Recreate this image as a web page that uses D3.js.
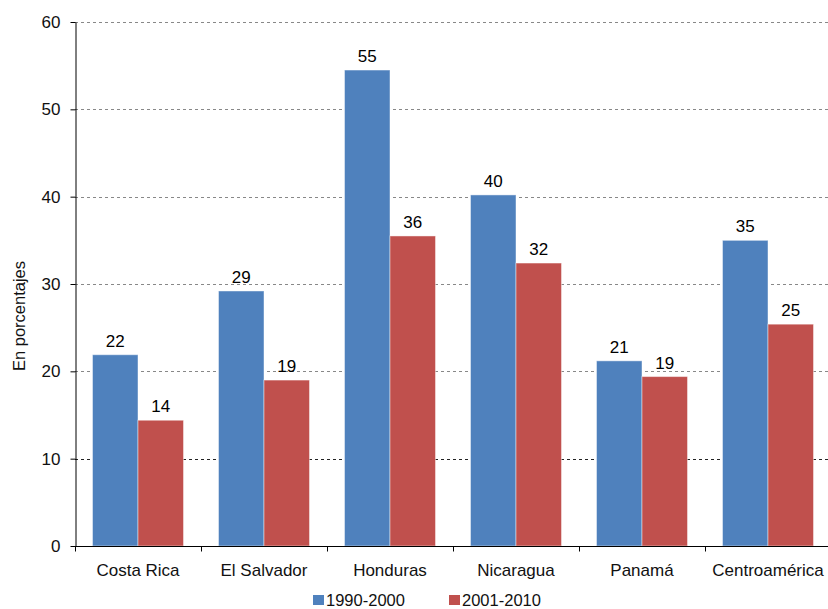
<!DOCTYPE html>
<html lang="es">
<head>
<meta charset="UTF-8">
<title>En porcentajes</title>
<script src="https://d3js.org/d3.v7.min.js"></script>
<style>
  body { margin: 0; background: #fff; }
  svg { font-family: "Liberation Sans", Arial, sans-serif; }
</style>
</head>
<body>
<div id="chart"></div>
<script>
// data
const categories = ["Costa Rica", "El Salvador", "Honduras", "Nicaragua", "Panamá", "Centroamérica"];
const seriesNames = ["1990-2000", "2001-2010"];
const values1990 = [21.9, 29.2, 54.5, 40.2, 21.2, 35.0];
const values2001 = [14.4, 19.0, 35.5, 32.4, 19.4, 25.4];
const labels1990 = ["22", "29", "55", "40", "21", "35"];
const labels2001 = ["14", "19", "36", "32", "19", "25"];
const yTicks = [0, 10, 20, 30, 40, 50, 60];
const colors = ["#4F81BD", "#C0504D"];

const W = 828, H = 609;
const plotLeft = 75, plotTop = 22, plotBottom = 546, plotRight = 831;

const svg = d3.select("#chart").append("svg")
  .attr("width", W).attr("height", H);

const x0 = d3.scaleBand().domain(categories).range([plotLeft, plotRight]).padding(0);
const x1 = d3.scaleBand().domain(seriesNames).range([17.5, x0.bandwidth() - 17.5]).padding(0);
const y = d3.scaleLinear().domain([0, 60]).range([plotBottom, plotTop]);

// gridlines
svg.append("g").selectAll("line")
  .data(yTicks.filter(d => d > 0))
  .enter().append("line")
  .attr("x1", plotLeft).attr("x2", W)
  .attr("y1", d => Math.round(y(d)) + 0.5).attr("y2", d => Math.round(y(d)) + 0.5)
  .attr("stroke", d => d === 10 ? "#222" : "#888")
  .attr("stroke-width", 1)
  .attr("stroke-dasharray", "3 3");

// bars
const rows = categories.map((c, i) => ({ cat: c, vals: [values1990[i], values2001[i]], labs: [labels1990[i], labels2001[i]] }));
const groups = svg.append("g").selectAll("g")
  .data(rows).enter().append("g")
  .attr("transform", d => `translate(${x0(d.cat)},0)`);

groups.selectAll("rect")
  .data(d => d.vals.map((v, k) => ({ s: seriesNames[k], v, k })))
  .enter().append("rect")
  .attr("x", d => x1(d.s))
  .attr("y", d => y(d.v))
  .attr("width", x1.bandwidth())
  .attr("height", d => y(0) - y(d.v))
  .attr("fill", d => colors[d.k])
  .attr("stroke", "rgba(255,255,255,0.45)")
  .attr("stroke-width", 1);

groups.selectAll("text")
  .data(d => d.vals.map((v, k) => ({ s: seriesNames[k], v, k, lab: d.labs[k] })))
  .enter().append("text")
  .attr("x", d => x1(d.s) + x1.bandwidth() / 2)
  .attr("y", d => y(d.v) - 8)
  .attr("text-anchor", "middle")
  .attr("font-size", 17)
  .attr("fill", "#000")
  .text(d => d.lab);

// y axis
const yAxis = svg.append("g")
  .attr("transform", `translate(${plotLeft + 0.5},0)`)
  .call(d3.axisLeft(y).tickValues(yTicks).tickSize(5).tickSizeOuter(0).tickPadding(10));
yAxis.select(".domain").attr("stroke", "#000");
yAxis.selectAll(".tick line").attr("stroke", "#000");
yAxis.selectAll("text").attr("font-size", 17).attr("fill", "#111").attr("font-family", "Liberation Sans, Arial, sans-serif");

// x axis
const xAxis = svg.append("g")
  .attr("transform", `translate(0,${plotBottom + 0.5})`);
xAxis.append("line").attr("x1", plotLeft).attr("x2", W).attr("stroke", "#000");
xAxis.selectAll("line.tk")
  .data(categories).enter().append("line")
  .attr("class", "tk")
  .attr("x1", d => Math.round(x0(d)) + 0.5).attr("x2", d => Math.round(x0(d)) + 0.5)
  .attr("y1", 0).attr("y2", 5).attr("stroke", "#000");
xAxis.selectAll("text")
  .data(categories).enter().append("text")
  .attr("x", d => x0(d) + x0.bandwidth() / 2)
  .attr("y", 29)
  .attr("text-anchor", "middle")
  .attr("font-size", 17)
  .attr("fill", "#111")
  .text(d => d);

// y title
svg.append("text")
  .attr("transform", "translate(25,316) rotate(-90)")
  .attr("text-anchor", "middle")
  .attr("font-size", 16.5)
  .attr("fill", "#111")
  .text("En porcentajes");

// legend
const legendX = [313, 449];
const legend = svg.append("g").selectAll("g")
  .data(seriesNames).enter().append("g")
  .attr("transform", (d, i) => `translate(${legendX[i]},595)`);
legend.append("rect").attr("width", 11).attr("height", 10).attr("fill", (d, i) => colors[i]);
legend.append("text").attr("x", 13).attr("y", 10.5)
  .attr("font-size", 16.5).attr("fill", "#111").text(d => d);
</script>
</body>
</html>
